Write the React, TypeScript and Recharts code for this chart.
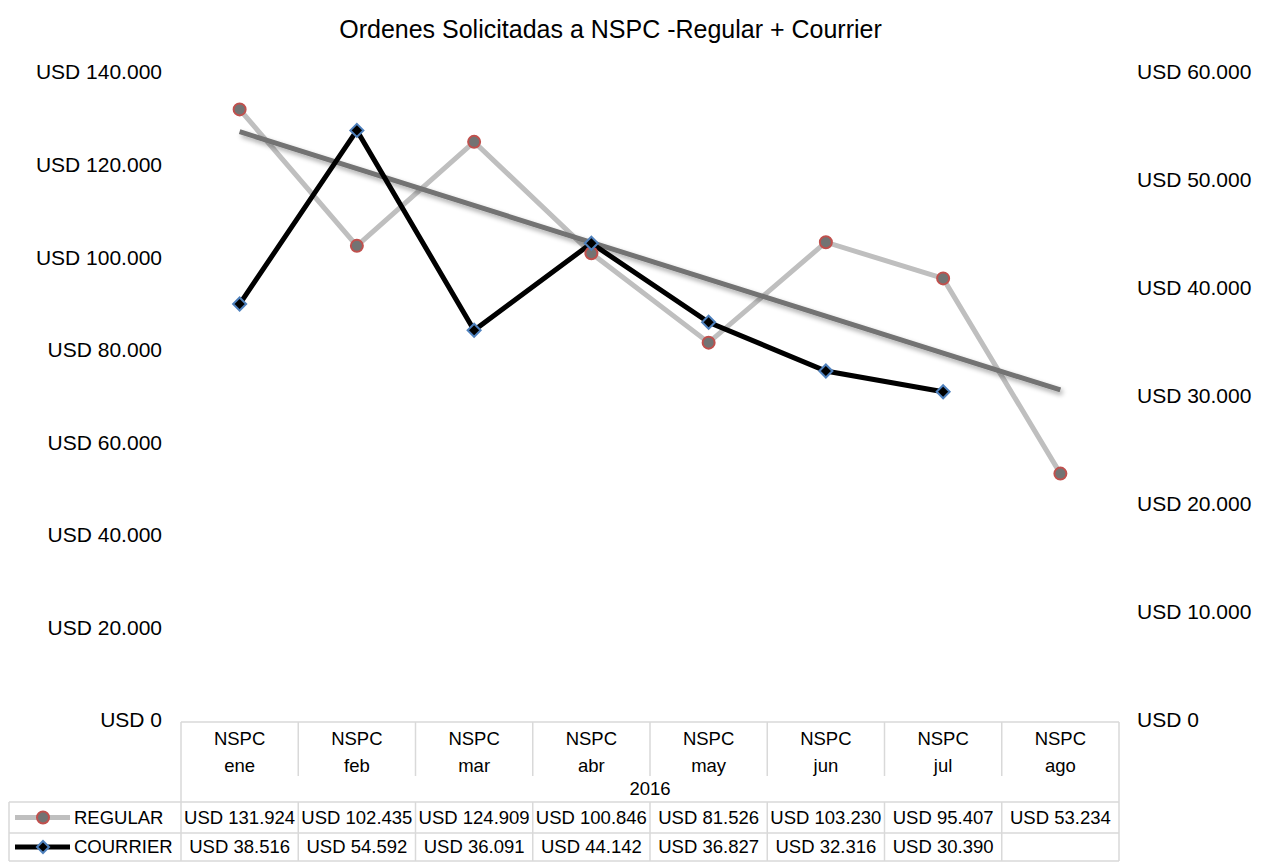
import React from 'react';
import { LineChart, Line, XAxis, YAxis } from 'recharts';

const meses = ['ene', 'feb', 'mar', 'abr', 'may', 'jun', 'jul', 'ago'];
const regular = [131924, 102435, 124909, 100846, 81526, 103230, 95407, 53234];
const courrier: (number | null)[] = [38516, 54592, 36091, 44142, 36827, 32316, 30390, null];
// trendline (only its ends are drawn)
const tendencia: (number | null)[] = [127100, null, null, null, null, null, null, 71300];
const ticksIzq = [0, 20000, 40000, 60000, 80000, 100000, 120000, 140000];
const ticksDer = [0, 10000, 20000, 30000, 40000, 50000, 60000];

const data = meses.map((m, i) => ({
  mes: m,
  regular: regular[i],
  courrier: courrier[i],
  tendencia: tendencia[i],
}));

const FONT = '"Liberation Sans", Arial, sans-serif';
const BORDER = '#d9d9d9';
const W = 1263;
const H = 854;
const PLOT_L = 173;
const PLOT_R = 1111;
const HALF = (PLOT_R - PLOT_L) / meses.length / 2;

const fmt = (v: number) => 'USD ' + String(v).replace(/\B(?=(\d{3})+(?!\d))/g, '.');

const RegularDot = (props: any) => {
  const { cx, cy } = props;
  if (cx == null || cy == null) return null;
  return <circle cx={cx} cy={cy} r={6} fill="#737373" stroke="#c0504d" strokeWidth={2} />;
};

const DiamondDot = (props: any) => {
  const { cx, cy, value } = props;
  if (cx == null || cy == null || value == null) return null;
  const s = 6.5;
  return (
    <path
      d={`M${cx},${cy - s}L${cx + s},${cy}L${cx},${cy + s}L${cx - s},${cy}Z`}
      fill="#000"
      stroke="#4f81bd"
      strokeWidth={2}
    />
  );
};

const TableTick = (props: any) => {
  const { x, y, payload, index } = props;
  const top = y + 2;
  const hdrEnd = top + 54;
  const row1 = top + 80;
  const row2 = top + 111;
  const bottom = top + 139;
  const i = index as number;
  const fs = 18.5;
  return (
    <g fontFamily={FONT} fontSize={fs} fill="#000">
      {i === 0 && (
        <g>
          <line x1={PLOT_L} x2={PLOT_R} y1={top} y2={top} stroke={BORDER} strokeWidth={1.5} />
          <line x1={1} x2={PLOT_R} y1={row1} y2={row1} stroke={BORDER} strokeWidth={1.5} />
          <line x1={1} x2={PLOT_R} y1={row2} y2={row2} stroke={BORDER} strokeWidth={1.5} />
          <line x1={1} x2={PLOT_R} y1={bottom} y2={bottom} stroke={BORDER} strokeWidth={1.5} />
          <line x1={1} x2={1} y1={row1} y2={bottom} stroke={BORDER} strokeWidth={1.5} />
          <line x1={PLOT_L} x2={PLOT_L} y1={top} y2={bottom} stroke={BORDER} strokeWidth={1.5} />
          <line x1={PLOT_R} x2={PLOT_R} y1={top} y2={bottom} stroke={BORDER} strokeWidth={1.5} />
          <text x={(PLOT_L + PLOT_R) / 2} y={(hdrEnd + row1) / 2} dy="0.35em" textAnchor="middle">
            2016
          </text>
          <line x1={7} x2={62} y1={(row1 + row2) / 2} y2={(row1 + row2) / 2} stroke="#bfbfbf" strokeWidth={5} />
          <circle cx={35} cy={(row1 + row2) / 2} r={6} fill="#737373" stroke="#c0504d" strokeWidth={2} />
          <text x={66} y={(row1 + row2) / 2} dy="0.35em">REGULAR</text>
          <line x1={7} x2={62} y1={(row2 + bottom) / 2} y2={(row2 + bottom) / 2} stroke="#000" strokeWidth={5} />
          <path
            d={`M35,${(row2 + bottom) / 2 - 6}l6,6l-6,6l-6,-6Z`}
            fill="#000"
            stroke="#4f81bd"
            strokeWidth={2}
          />
          <text x={66} y={(row2 + bottom) / 2} dy="0.35em">COURRIER</text>
        </g>
      )}
      {i > 0 && (
        <line x1={x - HALF} x2={x - HALF} y1={top} y2={hdrEnd} stroke={BORDER} strokeWidth={1.5} />
      )}
      {i > 0 && (
        <line x1={x - HALF} x2={x - HALF} y1={row1} y2={bottom} stroke={BORDER} strokeWidth={1.5} />
      )}
      <text x={x} y={top + 17} dy="0.35em" textAnchor="middle">NSPC</text>
      <text x={x} y={top + 44} dy="0.35em" textAnchor="middle">{payload.value}</text>
      <text x={x} y={(row1 + row2) / 2} dy="0.35em" textAnchor="middle">
        {fmt(regular[i])}
      </text>
      {courrier[i] != null && (
        <text x={x} y={(row2 + bottom) / 2} dy="0.35em" textAnchor="middle">
          {fmt(courrier[i] as number)}
        </text>
      )}
    </g>
  );
};

export default function App() {
  return (
    <div style={{ position: 'relative', width: W, height: H, background: '#fff' }}>
      <svg width={0} height={0} style={{ position: 'absolute' }}>
        <defs>
          <filter id="sombra" x="-10%" y="-50%" width="120%" height="200%">
            <feGaussianBlur in="SourceAlpha" stdDeviation="2.5" />
            <feOffset dx="2" dy="3" result="b" />
            <feComponentTransfer>
              <feFuncA type="linear" slope="0.35" />
            </feComponentTransfer>
            <feMerge>
              <feMergeNode />
              <feMergeNode in="SourceGraphic" />
            </feMerge>
          </filter>
        </defs>
      </svg>
      <div
        style={{
          position: 'absolute',
          top: 7,
          left: 0,
          width: 1205,
          textAlign: 'center',
          fontFamily: FONT,
          fontSize: 25,
          color: '#000',
        }}
      >
        Ordenes Solicitadas a NSPC -Regular + Courrier
      </div>
      <LineChart width={W} height={H} data={data} margin={{ top: 64, right: 0, bottom: 0, left: 0 }}>
        <XAxis
          dataKey="mes"
          height={142}
          axisLine={false}
          tickLine={false}
          tickSize={0}
          tickMargin={0}
          interval={0}
          padding={{ left: HALF, right: HALF }}
          tick={<TableTick />}
        />
        <YAxis
          yAxisId="left"
          width={173}
          domain={[0, 140000]}
          ticks={ticksIzq}
          axisLine={false}
          tickLine={false}
          tickSize={0}
          tickMargin={19}
          tickFormatter={fmt}
          tick={{ fill: '#000', fontSize: 21, fontFamily: FONT }}
        />
        <YAxis
          yAxisId="right"
          orientation="right"
          width={152}
          domain={[0, 60000]}
          ticks={ticksDer}
          axisLine={false}
          tickLine={false}
          tickSize={0}
          tickMargin={18}
          tickFormatter={fmt}
          tick={{ fill: '#000', fontSize: 21, fontFamily: FONT, textAnchor: 'start' }}
        />
        <Line
          yAxisId="left"
          dataKey="regular"
          stroke="#bfbfbf"
          strokeWidth={5}
          dot={<RegularDot />}
          activeDot={false}
          isAnimationActive={false}
        />
        <Line
          yAxisId="left"
          dataKey="tendencia"
          stroke="#737373"
          strokeWidth={5}
          connectNulls
          dot={false}
          activeDot={false}
          filter="url(#sombra)"
          isAnimationActive={false}
        />
        <Line
          yAxisId="right"
          dataKey="courrier"
          stroke="#000"
          strokeWidth={5}
          dot={<DiamondDot />}
          activeDot={false}
          isAnimationActive={false}
        />
      </LineChart>
    </div>
  );
}
